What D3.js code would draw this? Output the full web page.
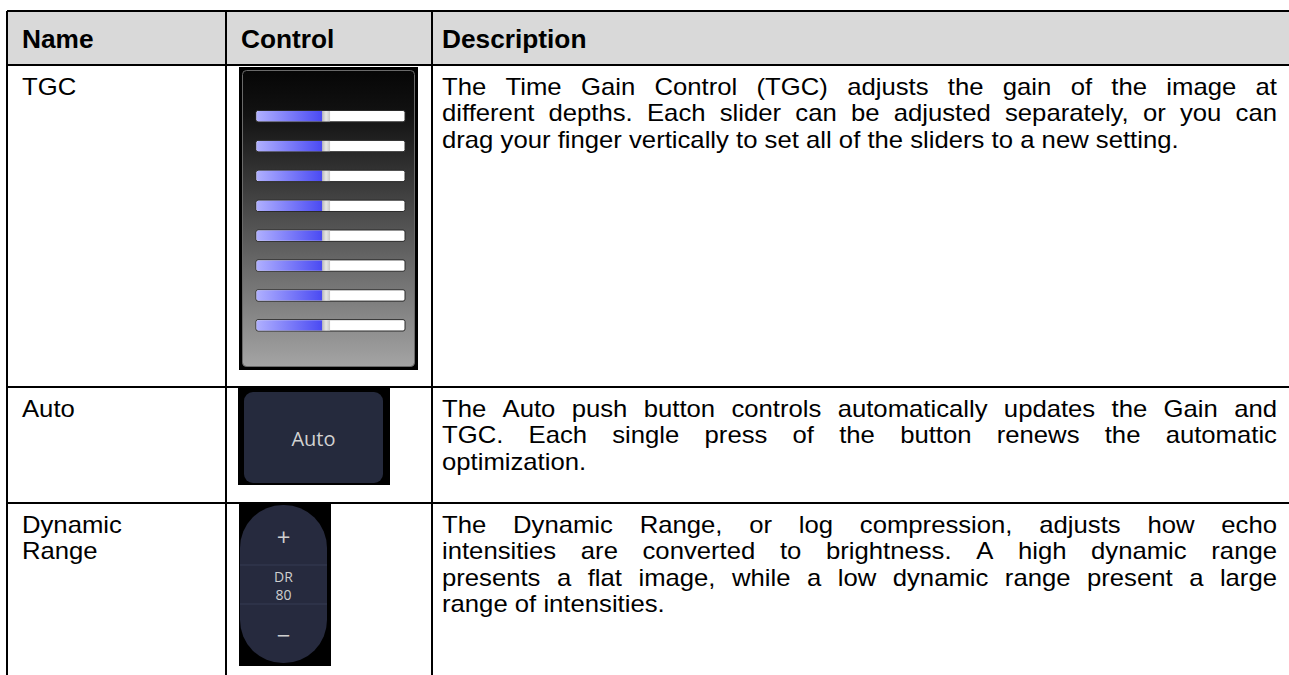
<!DOCTYPE html>
<html>
<head>
<meta charset="utf-8">
<script src="https://cdn.jsdelivr.net/npm/d3@7"></script>
<style>
  html, body { margin: 0; padding: 0; background: #ffffff; overflow: hidden; }
  svg { display: block; }
</style>
</head>
<body>
<svg id="chart" width="1289" height="675"></svg>
<script>
// ---------------- data ----------------
const headers = ["Name", "Control", "Description"];
const names = [["TGC"], ["Auto"], ["Dynamic", "Range"]];
const descriptions = [
  ["The Time Gain Control (TGC) adjusts the gain of the image at",
   "different depths. Each slider can be adjusted separately, or you can",
   "drag your finger vertically to set all of the sliders to a new setting."],
  ["The Auto push button controls automatically updates the Gain and",
   "TGC. Each single press of the button renews the automatic",
   "optimization."],
  ["The Dynamic Range, or log compression, adjusts how echo",
   "intensities are converted to brightness. A high dynamic range",
   "presents a flat image, while a low dynamic range present a large",
   "range of intensities."]
];
const tgcSliderValues = [0.45, 0.45, 0.45, 0.45, 0.45, 0.45, 0.45, 0.45];
const autoButtonLabel = "Auto";
const drLabels = ["+", "DR", "80", "−"];

// ---------------- layout ----------------
const colEdges = [7, 226, 432, 1300];
const rowEdges = [11, 65, 387, 503, 700];
const FONT = "'Liberation Sans', Arial, Helvetica, sans-serif";
const headSize = 25.5, bodySize = 24, lineGap = 26.5, stretch = 1.07, firstBase = 29.5;
const padX = 15, descPad = 10;

const svg = d3.select("#chart");
const defs = svg.append("defs");

// header background
svg.append("rect")
  .attr("x", colEdges[0]).attr("y", rowEdges[0])
  .attr("width", colEdges[3] - colEdges[0]).attr("height", rowEdges[1] - rowEdges[0])
  .attr("fill", "#d9d9d9");

// header text
svg.append("g").selectAll("text").data(headers).join("text")
  .attr("transform", (d, i) => `translate(${colEdges[i] + padX + (i === 2 ? -5 : 0)},47.5) scale(1.03,1)`)
  .attr("font-family", FONT).attr("font-weight", "bold")
  .attr("font-size", headSize).attr("fill", "#000")
  .text(d => d);

// names
const nameG = svg.append("g");
names.forEach((lines, r) => {
  nameG.selectAll(null).data(lines).join("text")
    .attr("transform", (d, k) => `translate(${colEdges[0] + padX},${rowEdges[r + 1] + firstBase + k * lineGap}) scale(${stretch},1)`)
    .attr("font-family", FONT).attr("font-size", bodySize).attr("fill", "#000")
    .text(d => d);
});

// descriptions, justified
const descLeft = colEdges[2] + descPad, descRight = 1277;
const descG = svg.append("g");
descriptions.forEach((lines, r) => {
  lines.forEach((line, k) => {
    const words = line.split(" ");
    const y = rowEdges[r + 1] + firstBase + k * lineGap;
    const tmp = descG.selectAll(null).data(words).join("text")
      .attr("font-family", FONT).attr("font-size", bodySize).attr("fill", "#000")
      .text(d => d);
    const widths = [];
    tmp.each(function () { widths.push(this.getComputedTextLength() * stretch); });
    const total = d3.sum(widths);
    const last = k === lines.length - 1;
    const spaceW = bodySize * 0.278 * stretch;
    const gap = (!last && words.length > 1) ? (descRight - descLeft - total) / (words.length - 1) : spaceW;
    let x = descLeft;
    tmp.attr("transform", (d, i) => { const xx = x; x += widths[i] + gap; return `translate(${xx},${y}) scale(${stretch},1)`; });
  });
});

// grid lines
const gridG = svg.append("g").attr("stroke", "#000").attr("stroke-width", 2);
rowEdges.forEach(y => gridG.append("line").attr("x1", colEdges[0]).attr("x2", colEdges[3]).attr("y1", y).attr("y2", y));
colEdges.forEach(x => gridG.append("line").attr("x1", x).attr("x2", x).attr("y1", rowEdges[0]).attr("y2", rowEdges[4]));

// ---------------- TGC control ----------------
const tg = defs.append("linearGradient").attr("id", "tgcBg").attr("x1", 0).attr("x2", 0).attr("y1", 0).attr("y2", 1);
tg.append("stop").attr("offset", "0%").attr("stop-color", "#060606");
tg.append("stop").attr("offset", "15%").attr("stop-color", "#121212");
tg.append("stop").attr("offset", "100%").attr("stop-color", "#a4a4a4");
const bg = defs.append("linearGradient").attr("id", "blueFill").attr("x1", 0).attr("x2", 1).attr("y1", 0).attr("y2", 0);
bg.append("stop").attr("offset", "0%").attr("stop-color", "#b0b0ff");
bg.append("stop").attr("offset", "100%").attr("stop-color", "#4848f2");
const hg = defs.append("linearGradient").attr("id", "handleFill").attr("x1", 0).attr("x2", 1).attr("y1", 0).attr("y2", 0);
hg.append("stop").attr("offset", "0%").attr("stop-color", "#b8b8b8");
hg.append("stop").attr("offset", "50%").attr("stop-color", "#e6e6e6");
hg.append("stop").attr("offset", "100%").attr("stop-color", "#c8c8c8");

const tgc = svg.append("g");
tgc.append("rect").attr("x", 239).attr("y", 67).attr("width", 179).attr("height", 303).attr("fill", "#000");
tgc.append("rect").attr("x", 242.5).attr("y", 70.5).attr("width", 172).attr("height", 296).attr("rx", 4)
  .attr("fill", "url(#tgcBg)").attr("stroke", "#6a6a6a").attr("stroke-width", 1);

const sx = d3.scaleLinear().domain([0, 1]).range([256, 405]);
const sy = d3.scaleBand().domain(d3.range(tgcSliderValues.length)).range([110.5, 331]).paddingInner(0.62).paddingOuter(0);
const sl = tgc.selectAll("g.sl").data(tgcSliderValues).join("g").attr("class", "sl");
sl.append("rect").attr("x", sx(0)).attr("y", (d, i) => sy(i)).attr("width", sx(1) - sx(0)).attr("height", sy.bandwidth())
  .attr("rx", 2).attr("fill", "#ffffff").attr("stroke", "#2a2a2a").attr("stroke-width", 1);
sl.append("rect").attr("x", sx(0) + 0.5).attr("y", (d, i) => sy(i) + 0.5).attr("width", d => sx(d) - sx(0)).attr("height", sy.bandwidth() - 1)
  .attr("rx", 2).attr("fill", "url(#blueFill)");
sl.append("rect").attr("x", d => sx(d) - 1).attr("y", (d, i) => sy(i) + 0.5).attr("width", 8).attr("height", sy.bandwidth() - 1)
  .attr("fill", "url(#handleFill)");

// ---------------- Auto button ----------------
const auto = svg.append("g");
auto.append("rect").attr("x", 238).attr("y", 388).attr("width", 152).attr("height", 97).attr("fill", "#000");
auto.append("rect").attr("x", 244).attr("y", 392).attr("width", 139).attr("height", 91).attr("rx", 9).attr("fill", "#252a3d");
auto.append("text").attr("x", 313.5).attr("y", 445.5).attr("text-anchor", "middle")
  .attr("font-family", "'Open Sans', 'Noto Sans', sans-serif").attr("font-size", 20).attr("fill", "#d2d2d2")
  .text(autoButtonLabel);

// ---------------- Dynamic Range control ----------------
const dr = svg.append("g");
dr.append("rect").attr("x", 239).attr("y", 504).attr("width", 92).attr("height", 162).attr("fill", "#000");
dr.append("rect").attr("x", 240).attr("y", 505).attr("width", 87).attr("height", 158).attr("rx", 43).attr("fill", "#262a3e");
[565, 604].forEach(y => dr.append("line").attr("x1", 240).attr("x2", 327).attr("y1", y).attr("y2", y)
  .attr("stroke", "#353a52").attr("stroke-width", 1));
const drY = [537, 576.5, 594.5, 635];
dr.selectAll("text").data(drLabels).join("text")
  .attr("x", 283.5).attr("y", (d, i) => drY[i]).attr("dy", "0.36em").attr("text-anchor", "middle")
  .attr("font-family", "'Open Sans', 'Noto Sans', sans-serif")
  .attr("font-size", (d, i) => (i === 0 || i === 3) ? 24 : 14)
  .attr("fill", "#cfcfcf")
  .text(d => d);
</script>
</body>
</html>
